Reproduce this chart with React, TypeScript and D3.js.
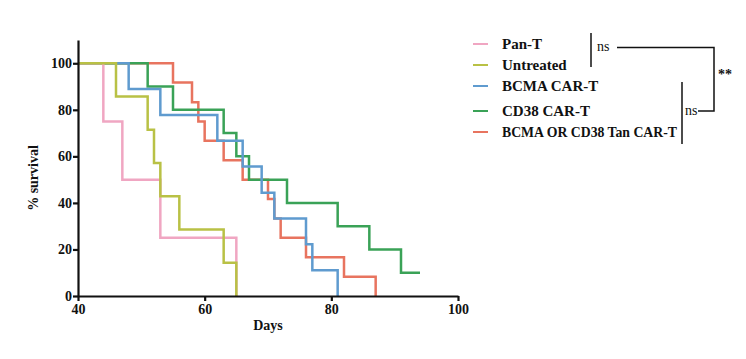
import * as d3 from 'd3';
import { useEffect, useRef } from 'react';

const WIDTH = 746;
const HEIGHT = 359;
const MARGIN = { top: 40, left: 78, right: 288, bottom: 63 };

const xTicks = [40, 60, 80, 100];
const yTicks = [0, 20, 40, 60, 80, 100];

// Kaplan-Meier steps (day, % survival)
const panTDays = [40, 44, 47, 53, 65];
const panTSurv = [100, 75, 50, 25, 0];
const untreatedDays = [40, 46, 51, 52, 53, 56, 63, 65];
const untreatedSurv = [100, 85.7, 71.4, 57.1, 42.9, 28.6, 14.3, 0];
const bcmaDays = [40, 48, 53, 62, 66, 69, 71, 76, 77, 81];
const bcmaSurv = [100, 88.9, 77.8, 66.7, 55.6, 44.4, 33.3, 22.2, 11.1, 0];
const cd38Days = [40, 51, 55, 63, 65, 67, 73, 81, 86, 91, 94];
const cd38Surv = [100, 90, 80, 70, 60, 50, 40, 30, 20, 10, 10];
const tanDays = [40, 55, 58, 59, 60, 63, 66, 70, 71, 72, 76, 82, 87];
const tanSurv = [100, 91.7, 83.3, 75, 66.7, 58.3, 50, 41.7, 33.3, 25, 16.7, 8.3, 0];

const legendLabels = ['Pan-T', 'Untreated', 'BCMA CAR-T', 'CD38 CAR-T', 'BCMA OR CD38 Tan CAR-T'];
const legendY = [44, 65, 86, 111, 132];

const series = [
    { name: 'Pan-T', days: panTDays, surv: panTSurv, color: '#f0a6c2' },
    { name: 'Untreated', days: untreatedDays, surv: untreatedSurv, color: '#b9c145' },
    { name: 'BCMA CAR-T', days: bcmaDays, surv: bcmaSurv, color: '#5f9bcf' },
    { name: 'CD38 CAR-T', days: cd38Days, surv: cd38Surv, color: '#3aa257' },
    { name: 'BCMA OR CD38 Tan CAR-T', days: tanDays, surv: tanSurv, color: '#e8745f' },
];
// draw order: last on top
const drawOrder = [4, 3, 2, 0, 1];

const FONT = '"Liberation Serif", "Times New Roman", serif';

export default function App() {
    const boundsWidth = WIDTH - MARGIN.left - MARGIN.right;
    const boundsHeight = HEIGHT - MARGIN.top - MARGIN.bottom;

    const xScale = d3.scaleLinear().domain([40, 100]).range([0, boundsWidth]);
    const yScale = d3.scaleLinear().domain([0, 110]).range([boundsHeight, 0]);

    const xAxisRef = useRef(null);
    const yAxisRef = useRef(null);

    useEffect(() => {
        const gx = d3.select(xAxisRef.current);
        gx.selectAll('*').remove();
        gx.call(d3.axisBottom(xScale).tickValues(xTicks).tickSize(5).tickSizeOuter(0).tickPadding(3));
        const gy = d3.select(yAxisRef.current);
        gy.selectAll('*').remove();
        gy.call(d3.axisLeft(yScale).tickValues(yTicks).tickSize(5).tickSizeOuter(0).tickPadding(1));
        [gx, gy].forEach((g) => {
            g.attr('font-family', FONT).attr('font-size', 14).attr('font-weight', 'bold');
            g.selectAll('path,line').attr('stroke', '#111').attr('stroke-width', 2.2);
            g.selectAll('text').attr('fill', '#111');
        });
    }, [xScale, yScale]);

    const lineBuilder = d3
        .line<[number, number]>()
        .x((d) => xScale(d[0]))
        .y((d) => yScale(d[1]))
        .curve(d3.curveStepAfter);

    return (
        <div style={{ position: 'absolute', left: 0, top: 0 }}>
            <svg width={WIDTH} height={HEIGHT} style={{ display: 'block', background: '#fff' }}>
                <g transform={`translate(${MARGIN.left},${MARGIN.top})`}>
                    {drawOrder.map((i) => {
                        const s = series[i];
                        const pts = s.days.map((d, j) => [d, s.surv[j]] as [number, number]);
                        return (
                            <path
                                key={s.name}
                                d={lineBuilder(pts) || ''}
                                fill="none"
                                stroke={s.color}
                                strokeWidth={2.5}
                            />
                        );
                    })}
                    <g ref={xAxisRef} transform={`translate(0,${boundsHeight})`} />
                    <g ref={yAxisRef} />
                </g>
                <text
                    x={268}
                    y={330}
                    textAnchor="middle"
                    fontFamily={FONT}
                    fontWeight="bold"
                    fontSize={14}
                    fill="#111"
                >
                    Days
                </text>
                <text
                    transform="translate(38,178) rotate(-90)"
                    textAnchor="middle"
                    fontFamily={FONT}
                    fontWeight="bold"
                    fontSize={14}
                    fill="#111"
                >
                    % survival
                </text>
                {legendLabels.map((label, i) => (
                    <g key={label} transform={`translate(0,${legendY[i]})`}>
                        <line x1={473} x2={488} y1={0} y2={0} stroke={series[i].color} strokeWidth={2} />
                        <text
                            x={502}
                            y={5}
                            fontFamily={FONT}
                            fontWeight="bold"
                            fontSize={15}
                            fill="#111"
                            textLength={i === 4 ? 175 : undefined}
                            lengthAdjust={i === 4 ? 'spacingAndGlyphs' : undefined}
                        >
                            {label}
                        </text>
                    </g>
                ))}
                <g stroke="#111" strokeWidth={1.5} fill="none">
                    <line x1={591} x2={591} y1={33} y2={67} />
                    <path d="M617,47.5 H714 V111 H698" />
                    <line x1={682} x2={682} y1={82} y2={144} />
                </g>
                <g fontFamily={FONT} fontSize={14} fill="#111">
                    <text x={597} y={51}>ns</text>
                    <text x={685} y={115}>ns</text>
                    <text x={718} y={79} fontWeight="bold">**</text>
                </g>
            </svg>
        </div>
    );
}
